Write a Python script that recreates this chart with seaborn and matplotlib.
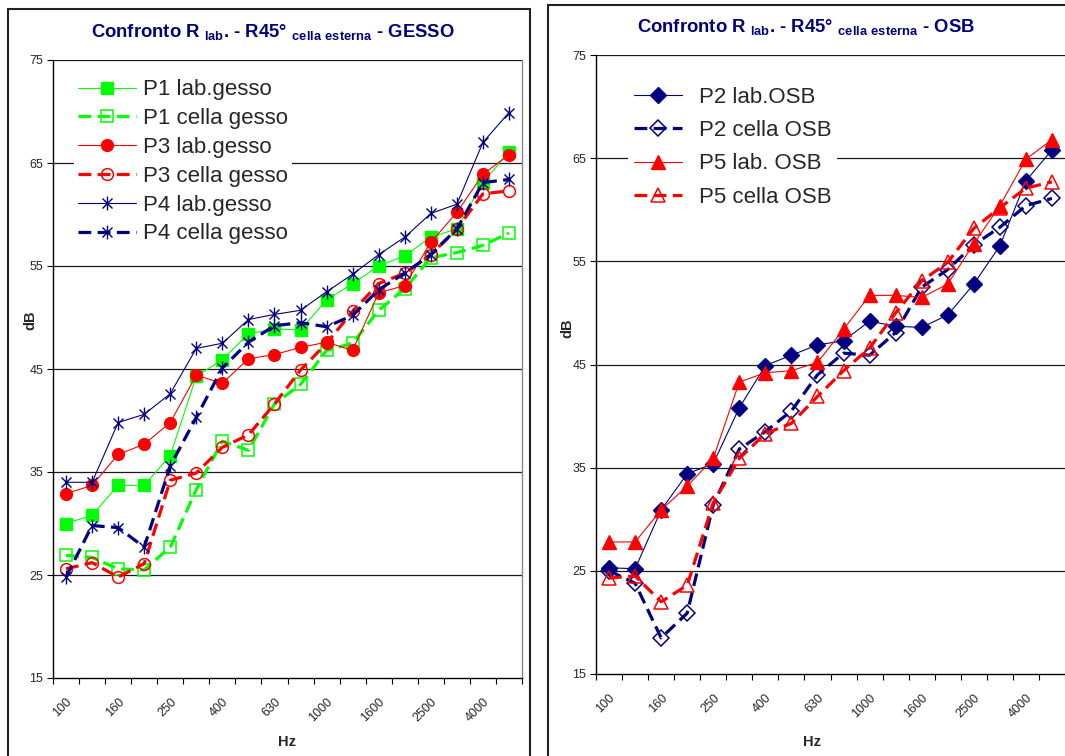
import matplotlib
matplotlib.use("Agg")
import matplotlib.pyplot as plt
from matplotlib.path import Path
from matplotlib.patches import Rectangle
import seaborn as sns
import pandas as pd

# ---------------- data ----------------
freqs = ["100", "125", "160", "200", "250", "315", "400", "500", "630", "800",
         "1000", "1250", "1600", "2000", "2500", "3150", "4000", "5000"]

p1_lab = [30.0, 30.8, 33.7, 33.7, 36.6, 44.3, 45.9, 48.4, 48.9, 48.8, 51.7, 53.3, 55.0, 56.0, 57.8, 58.6, 63.1, 66.1]
p1_cella = [26.9, 26.7, 25.6, 25.5, 27.7, 33.3, 38.0, 37.1, 41.6, 43.5, 46.8, 47.5, 50.7, 52.8, 55.8, 56.3, 57.0, 58.2]
p3_lab = [32.9, 33.7, 36.7, 37.7, 39.8, 44.4, 43.6, 46.0, 46.4, 47.1, 47.6, 46.8, 52.4, 53.1, 57.3, 60.2, 63.9, 65.8]
p3_cella = [25.6, 26.2, 24.8, 26.1, 34.2, 34.9, 37.4, 38.6, 41.6, 44.9, 47.5, 50.6, 53.3, 54.3, 56.1, 58.6, 62.0, 62.3]
p4_lab = [34.0, 34.0, 39.8, 40.6, 42.6, 47.0, 47.5, 49.8, 50.3, 50.7, 52.5, 54.2, 56.1, 57.8, 60.1, 61.0, 67.0, 69.9]
p4_cella = [24.8, 29.8, 29.6, 27.7, 35.6, 40.3, 45.1, 47.6, 49.2, 49.5, 49.1, 50.2, 52.7, 54.3, 56.1, 58.6, 63.1, 63.4]

p2_lab = [25.3, 25.2, 30.9, 34.4, 35.4, 40.8, 44.9, 45.9, 46.9, 47.3, 49.2, 48.7, 48.6, 49.8, 52.8, 56.5, 62.8, 65.8]
p2_cella = [25.0, 23.8, 18.5, 20.9, 31.4, 36.8, 38.5, 40.5, 44.0, 46.1, 45.9, 48.1, 52.5, 54.2, 56.6, 58.3, 60.4, 61.1]
p5_lab = [27.8, 27.8, 30.9, 33.2, 35.9, 43.3, 44.2, 44.4, 45.2, 48.4, 51.7, 51.7, 51.5, 52.8, 56.7, 60.4, 64.9, 66.8]
p5_cella = [24.3, 24.5, 22.0, 23.6, 31.6, 35.9, 38.3, 39.3, 41.9, 44.4, 46.6, 50.0, 53.1, 54.9, 58.2, 60.2, 62.1, 62.7]

left_labels = ["P1 lab.gesso", "P1 cella gesso", "P3 lab.gesso", "P3 cella gesso", "P4 lab.gesso", "P4 cella gesso"]
right_labels = ["P2 lab.OSB", "P2 cella OSB", "P5 lab. OSB", "P5 cella OSB"]
yticks = [15, 25, 35, 45, 55, 65, 75]

# ---------------- style ----------------
sns.set_theme(style="white")
plt.rcParams["font.family"] = ["Liberation Sans", "DejaVu Sans"]
plt.rcParams["mathtext.fontset"] = "custom"
plt.rcParams["mathtext.rm"] = "Liberation Sans:bold"
plt.rcParams["mathtext.bf"] = "Liberation Sans:bold"

GREEN = "#00FF00"
RED = "#FF0000"
NAVY = "#000080"

star = Path([(0, -1), (0, 1), (-0.72, -0.72), (0.72, 0.72), (-0.72, 0.72), (0.72, -0.72)],
            [Path.MOVETO, Path.LINETO, Path.MOVETO, Path.LINETO, Path.MOVETO, Path.LINETO])

DASH = (0, (4, 2))

fig = plt.figure(figsize=(10.65, 7.56), dpi=100)
fig.patch.set_facecolor("white")

# panel borders
fig.patches.append(Rectangle((8 / 1065, -0.05), (530 - 8) / 1065, 1.05 - 9 / 756,
                             transform=fig.transFigure, fill=False, edgecolor="#222222", lw=1.5))
fig.patches.append(Rectangle((548 / 1065, -0.05), 0.6, 1.05 - 5 / 756,
                             transform=fig.transFigure, fill=False, edgecolor="#222222", lw=1.5))

ax1 = fig.add_axes([53 / 1065, 1 - 678 / 756, 469 / 1065, 618 / 756])
ax2 = fig.add_axes([596 / 1065, 1 - 674 / 756, 469 / 1065, 619 / 756])

x = list(range(len(freqs)))


def draw(ax, y, color, marker, ms, filled, lab, label):
    df = pd.DataFrame({"x": x, "y": y})
    kws = dict(color=color, marker=marker, markersize=ms, label=label,
               markeredgecolor=color, markerfacecolor=color if filled else "none",
               markeredgewidth=1.0 if filled else 1.1)
    if lab:
        kws.update(linewidth=0.8, linestyle="-")
    else:
        kws.update(linewidth=2.3, linestyle=DASH)
    sns.lineplot(data=df, x="x", y="y", ax=ax, **kws)


draw(ax1, p1_lab, GREEN, "s", 8.5, True, True, left_labels[0])
draw(ax1, p1_cella, GREEN, "s", 8.5, False, False, left_labels[1])
draw(ax1, p3_lab, RED, "o", 8.5, True, True, left_labels[2])
draw(ax1, p3_cella, RED, "o", 8.5, False, False, left_labels[3])
draw(ax1, p4_lab, NAVY, star, 10, True, True, left_labels[4])
draw(ax1, p4_cella, NAVY, star, 10, True, False, left_labels[5])

draw(ax2, p2_lab, NAVY, "D", 8, True, True, right_labels[0])
draw(ax2, p2_cella, NAVY, "D", 8, False, False, right_labels[1])
draw(ax2, p5_lab, RED, "^", 10, True, True, right_labels[2])
draw(ax2, p5_cella, RED, "^", 10, False, False, right_labels[3])

for ax in (ax1, ax2):
    ax.set_facecolor("white")
    ax.set_xlim(-0.5, len(freqs) - 0.5)
    ax.set_ylim(15, 75)
    ax.set_yticks(yticks)
    ax.set_yticklabels([str(v) for v in yticks], fontsize=9)
    for v in yticks[1:]:
        ax.axhline(v, color="#1a1a1a", lw=0.9, zorder=0.5)
    # major ticks at category boundaries, labels on minor ticks
    ax.set_xticks([i - 0.5 for i in range(len(freqs) + 1)])
    ax.set_xticklabels([])
    ax.set_xticks(x[::2], minor=True)
    ax.set_xticklabels(freqs[::2], minor=True, rotation=45, ha="right",
                       rotation_mode="anchor", fontsize=9)
    ax.tick_params(axis="x", which="minor", length=0, pad=13)
    ax.tick_params(axis="x", which="major", length=4, width=0.8, direction="out",
                   color="black", bottom=True)
    ax.tick_params(axis="y", which="major", length=4, width=0.8, direction="out",
                   color="black", left=True, pad=3)
    ax.grid(False)
    for s in ("left", "bottom"):
        ax.spines[s].set_color("black")
        ax.spines[s].set_linewidth(1.0)
    ax.spines["top"].set_visible(False)
    ax.spines["right"].set_color("#888888")
    ax.spines["right"].set_linewidth(1.0)
    ax.set_xlabel("")
    ax.set_ylabel("")
    if ax.get_legend():
        ax.get_legend().remove()

ax2.spines["right"].set_visible(False)

# axis titles
fig.text(30 / 1065, 1 - 320 / 756, "dB", rotation=90, ha="center", va="center",
         fontsize=10.5, fontweight="bold")
fig.text(567 / 1065, 1 - 328 / 756, "dB", rotation=90, ha="center", va="center",
         fontsize=10.5, fontweight="bold")
fig.text(287 / 1065, 1 - 742 / 756, "Hz", ha="center", va="center",
         fontsize=10.5, fontweight="bold")
fig.text(812 / 1065, 1 - 742 / 756, "Hz", ha="center", va="center",
         fontsize=10.5, fontweight="bold")

# chart titles
t_left = r"Confronto R $_{\mathbf{lab}}$. - R45° $_{\mathbf{cella\ esterna}}$ - GESSO"
t_right = r"Confronto R $_{\mathbf{lab}}$. - R45° $_{\mathbf{cella\ esterna}}$ - OSB"
fig.text(273 / 1065, 1 - 32 / 756, t_left, ha="center", va="center", fontsize=13.3,
         fontweight="bold", color=NAVY)
fig.text(806 / 1065, 1 - 27 / 756, t_right, ha="center", va="center", fontsize=13.3,
         fontweight="bold", color=NAVY)

# legends
leg1 = ax1.legend(handles=ax1.get_lines()[:6], labels=left_labels, loc="upper left",
                  bbox_to_anchor=(74 / 1065, 1 - 75 / 756), bbox_transform=fig.transFigure,
                  fontsize=16, frameon=True, facecolor="white", edgecolor="none",
                  framealpha=1, fancybox=False, handlelength=2.6, handletextpad=0.3,
                  labelspacing=0.35, borderpad=0.2, borderaxespad=0, numpoints=1)
leg1.set_zorder(5)
leg2 = ax2.legend(handles=ax2.get_lines()[:4], labels=right_labels, loc="upper left",
                  bbox_to_anchor=(628 / 1065, 1 - 81 / 756), bbox_transform=fig.transFigure,
                  fontsize=16, frameon=True, facecolor="white", edgecolor="none",
                  framealpha=1, fancybox=False, handlelength=2.2, handletextpad=0.75,
                  labelspacing=0.56, borderpad=0.25, borderaxespad=0, numpoints=1)
leg2.set_zorder(5)

fig.savefig("out.png", dpi=100, facecolor="white")
